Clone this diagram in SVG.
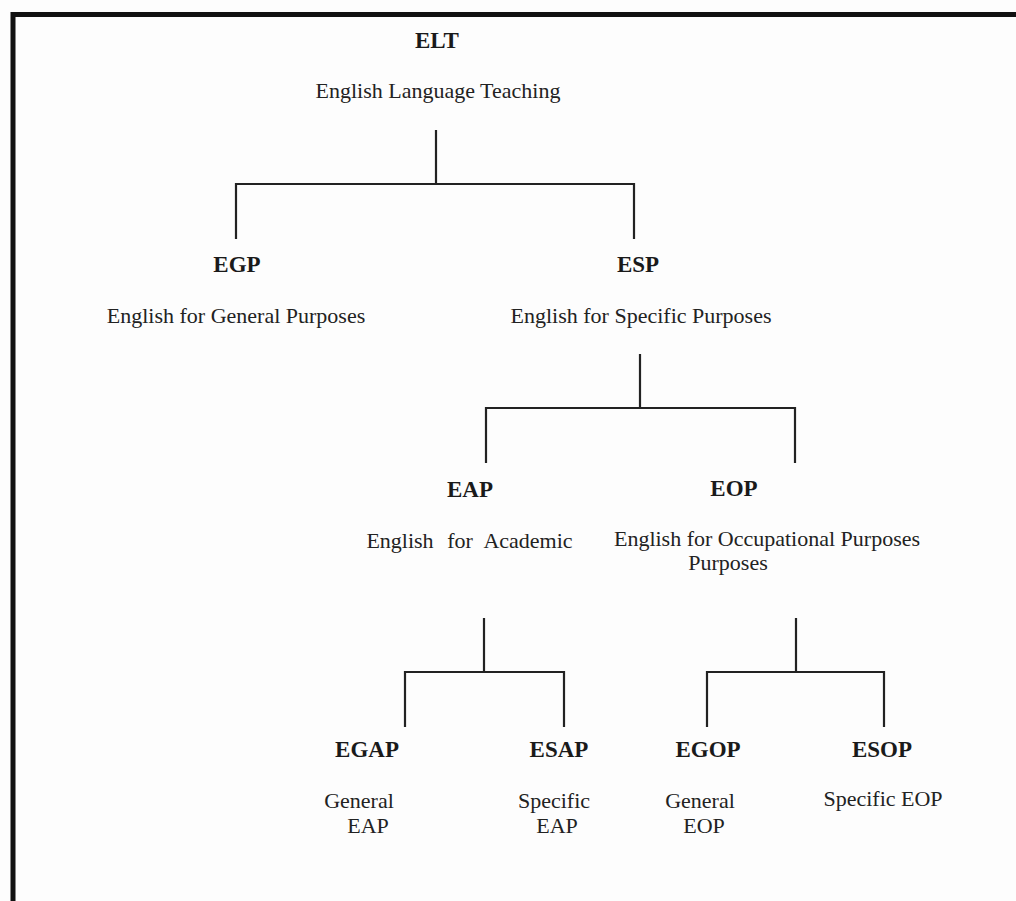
<svg xmlns="http://www.w3.org/2000/svg" width="1016" height="901" viewBox="0 0 1016 901">
<style>
.t{font-family:"Liberation Serif","Times New Roman",serif;font-size:22px;fill:#222;text-anchor:middle}
.b{font-family:"Liberation Serif","Times New Roman",serif;font-size:23px;font-weight:bold;fill:#1a1a1a;text-anchor:middle}
.c{stroke:#222;stroke-width:2.2;fill:none}
</style>
<rect x="0" y="0" width="1016" height="901" fill="#fdfdfd"/>
<rect x="13" y="14.5" width="1030" height="920" fill="none" stroke="#111" stroke-width="5"/>
<g id="connectors">
<path class="c" d="M436 130V184M236 239V184H634V239"/>
<path class="c" d="M640 354V408M486 463V408H795V463"/>
<path class="c" d="M484 618V672M405 727V672H564V727"/>
<path class="c" d="M796 618V672M707 727V672H884V727"/>
</g>
<g id="elt"><text class="b" x="437" y="48">ELT</text><text class="t" x="438" y="98">English Language Teaching</text></g>
<g id="egp"><text class="b" x="237" y="272">EGP</text><text class="t" x="236" y="323">English for General Purposes</text></g>
<g id="esp"><text class="b" x="638" y="272">ESP</text><text class="t" x="641" y="323">English for Specific Purposes</text></g>
<g id="eap"><text class="b" x="470" y="497">EAP</text><text class="t" y="548"><tspan x="400">English</tspan><tspan x="460">for</tspan><tspan x="528">Academic</tspan></text></g>
<g id="eop"><text class="b" x="734" y="496">EOP</text><text class="t" x="767" y="546">English for Occupational Purposes</text><text class="t" x="728" y="570">Purposes</text></g>
<g id="egap"><text class="b" x="367" y="757">EGAP</text><text class="t" x="359" y="808">General</text><text class="t" x="368" y="833">EAP</text></g>
<g id="esap"><text class="b" x="559" y="757">ESAP</text><text class="t" x="554" y="808">Specific</text><text class="t" x="557" y="833">EAP</text></g>
<g id="egop"><text class="b" x="708" y="757">EGOP</text><text class="t" x="700" y="808">General</text><text class="t" x="704" y="833">EOP</text></g>
<g id="esop"><text class="b" x="882" y="757">ESOP</text><text class="t" x="883" y="806">Specific EOP</text></g>
</svg>
